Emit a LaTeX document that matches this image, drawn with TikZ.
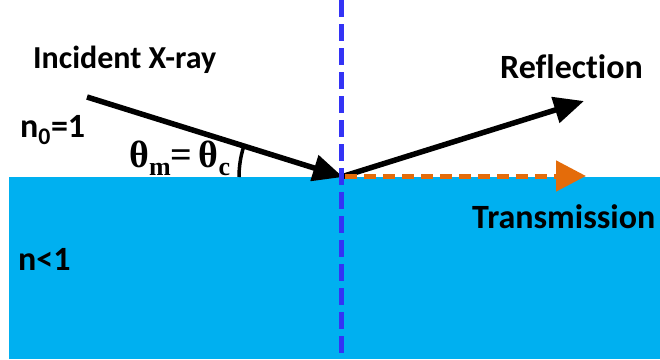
\documentclass[tikz,border=0pt]{standalone}
\usepackage{fontspec}
\setmainfont[Ligatures={NoCommon,NoRare}]{Carlito}
\newfontfamily\tnr{Liberation Serif}
\usetikzlibrary{arrows.meta}
\definecolor{water}{HTML}{00B0F0}
\definecolor{normalblue}{HTML}{3333F5}
\definecolor{transor}{HTML}{E46C0A}
\newcommand{\lowsub}[1]{\raisebox{-8pt}{\fontsize{26}{28}\selectfont #1}}
\tikzset{
  lbl/.style={font=\fontsize{34}{38}\selectfont\bfseries, inner sep=0pt, anchor=base west},
  ray/.style={line width=5.5pt, draw=black, -{Triangle[length=30pt,width=26pt]}},
  transray/.style={line width=5pt, draw=transor, dash pattern=on 12pt off 7pt, -{Triangle[length=30pt,width=30pt,fill=transor]}},
  normalline/.style={line width=5pt, draw=normalblue, dash pattern=on 17pt off 7pt}
}
\begin{document}
\begin{tikzpicture}[x=1pt,y=-1pt]
\useasboundingbox (0,0) rectangle (660,359);
\fill[water] (9,177) rectangle (660,359);
\coordinate (src) at (87,97);
\coordinate (hit) at (341,177);
\coordinate (refl) at (584,101);
\coordinate (trans) at (586,177);
\coordinate (ntop) at (341,0);
\coordinate (nbot) at (341,359);
\draw[ray] (src) -- ([xshift=2pt]hit);
\draw[ray] (hit) -- (refl);
\draw[transray] ([xshift=4pt,yshift=1pt]hit) -- ([yshift=1pt]trans);
\draw[normalline] (ntop) -- (nbot);
\draw[line width=3.5pt] ([shift={(197.5:102)}]hit) arc[start angle=197.5, end angle=180, radius=102];
\node[lbl, font=\fontsize{32}{36}\selectfont\bfseries] (inc) at (33,68) {Incident X-ray};
\node[lbl] (n0) at (20,137) {n\textsubscript{0}=1};
\node[lbl] (refltxt) at (500,78) {Reflec\kern0pt tion};
\node[lbl] (transtxt) at (472,228) {Transmission};
\node[lbl] (nlt) at (18,270) {n<1};
\node[inner sep=0pt, anchor=base west, font=\tnr\fontsize{38}{40}\selectfont\bfseries] (theta) at (129,167) {θ\lowsub{m}=\,θ\lowsub{c}};
\end{tikzpicture}
\end{document}
